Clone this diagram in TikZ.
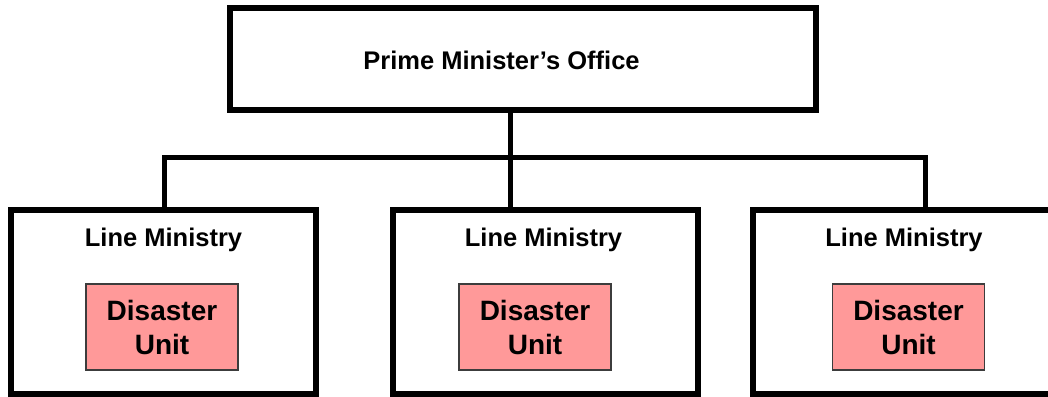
\documentclass[tikz,border=0pt]{standalone}
\usepackage{fontspec}
\setmainfont{Liberation Sans}
\definecolor{unitpink}{RGB}{255,153,153}
\definecolor{unitedge}{RGB}{60,60,60}
\begin{document}
\begin{tikzpicture}[x=1pt, y=-1pt,
        office/.style={rectangle, draw, line width=6pt, inner sep=0pt, minimum width=586pt, minimum height=102pt},
        ministry/.style={rectangle, draw, line width=6pt, inner sep=0pt, minimum width=305pt, minimum height=184pt},
        unit/.style={rectangle, draw=unitedge, fill=unitpink, line width=1.5pt, inner sep=0pt, minimum width=152pt, minimum height=86pt, align=center, font=\bfseries\fontsize{28}{34}\selectfont},
        caption/.style={anchor=base, inner sep=0pt, font=\bfseries\fontsize{25.5}{30}\selectfont},
        link/.style={line width=5pt, line join=miter}]
    \useasboundingbox (0, 0) rectangle (1048, 396);
    \clip (0, 0) rectangle (1048, 396);

    \node[style=office] (pmo) at (523, 59) {};
    \node[style=caption] (pmotext) at (501.5, 70) {Prime Minister’s Office};

    \node[style=ministry] (lm1) at (163, 302) {};
    \node[style=ministry] (lm2) at (545.75, 302) {};
    \node[style=ministry] (lm3) at (905, 302) {};

    \node[style=caption] (lm1text) at (163.5, 246) {Line Ministry};
    \node[style=caption] (lm2text) at (543.5, 246) {Line Ministry};
    \node[style=caption] (lm3text) at (904, 246) {Line Ministry};

    \node[style=unit] (du1) at (162, 327) {Disaster\\Unit};
    \node[style=unit] (du2) at (535, 327) {Disaster\\Unit};
    \node[style=unit] (du3) at (908.5, 327) {Disaster\\Unit};

    \coordinate (jl) at (164, 157.5);
    \coordinate (jm) at (510.5, 157.5);
    \coordinate (jr) at (925.5, 157.5);

    \draw[link] (jl |- lm1.north) -- (jl) -- (jr) -- (jr |- lm3.north);
    \draw[link] (pmo.south -| jm) -- (jm |- lm2.north);
\end{tikzpicture}
\end{document}
